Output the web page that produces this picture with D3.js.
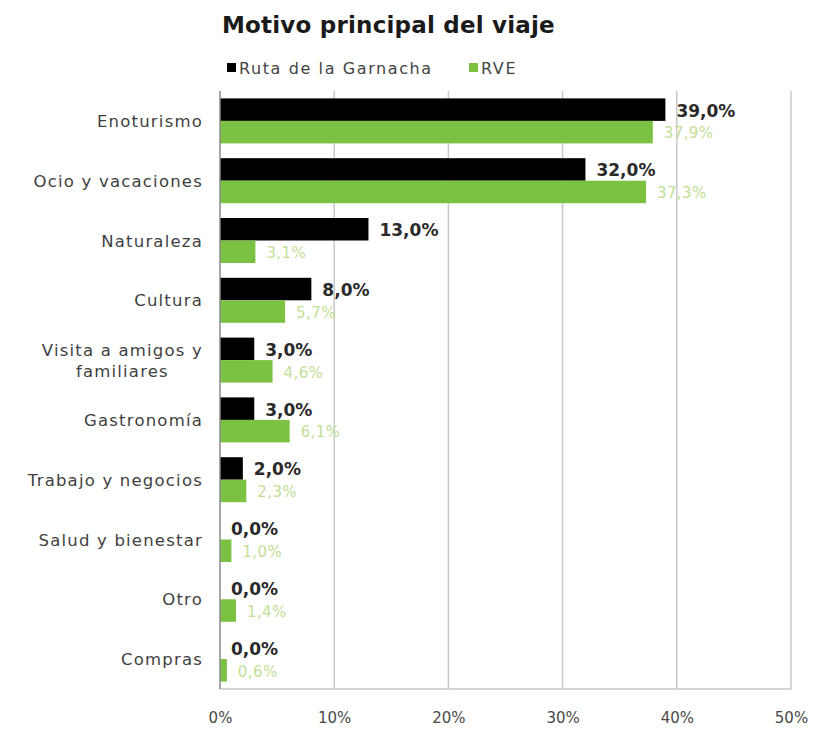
<!DOCTYPE html>
<html>
<head>
<meta charset="utf-8">
<script src="https://cdn.jsdelivr.net/npm/d3@7/dist/d3.min.js"></script>
<style>
  html, body { margin: 0; padding: 0; background: #ffffff; }
  svg { display: block; font-family: "DejaVu Sans", "Noto Sans", sans-serif; }
</style>
</head>
<body>
<svg id="chart" width="815" height="734"></svg>
<script>
// Trip purpose categories (top to bottom)
const categories = [
  "Enoturismo",
  "Ocio y vacaciones",
  "Naturaleza",
  "Cultura",
  "Visita a amigos y familiares",
  "Gastronomía",
  "Trabajo y negocios",
  "Salud y bienestar",
  "Otro",
  "Compras"
];
// Share of visitors, percent
const rutaGarnacha = [39.0, 32.0, 13.0, 8.0, 3.0, 3.0, 2.0, 0.0, 0.0, 0.0];
const rve = [37.9, 37.3, 3.1, 5.7, 4.6, 6.1, 2.3, 1.0, 1.4, 0.6];
const seriesNames = ["Ruta de la Garnacha", "RVE"];
const xTicks = [0, 10, 20, 30, 40, 50];

const colors = { ruta: "#000000", rve: "#7cc242", rveLabel: "#bfe096", text: "#3f3f3f", grid: "#c9c9c9" };

const svg = d3.select("#chart");
const plotTop = 91, plotBottom = 689;

const x = d3.scaleLinear().domain([0, 50]).range([220, 791]);
const y = d3.scaleBand().domain(categories).range([plotTop, plotBottom]);
const barH = 22.5;

// Title
svg.append("text")
  .attr("x", 222).attr("y", 33)
  .attr("font-size", 23).attr("font-weight", "bold").attr("fill", "#1a1a1a")
  .attr("letter-spacing", 0.2)
  .text("Motivo principal del viaje");

// Legend
const legend = svg.append("g");
const legendItems = [
  { name: seriesNames[0], color: colors.ruta, x: 227 },
  { name: seriesNames[1], color: colors.rve, x: 469 }
];
legendItems.forEach(d => {
  legend.append("rect").attr("x", d.x).attr("y", 63).attr("width", 9).attr("height", 9).attr("fill", d.color);
  legend.append("text").attr("x", d.x + 12).attr("y", 74)
    .attr("font-size", 16).attr("letter-spacing", 1.6).attr("fill", "#444").text(d.name);
});

// Vertical gridlines
svg.append("g").selectAll("line")
  .data(xTicks.filter(t => t > 0))
  .join("line")
  .attr("x1", d => x(d)).attr("x2", d => x(d))
  .attr("y1", plotTop).attr("y2", plotBottom)
  .attr("stroke", colors.grid).attr("stroke-width", 1.5);

// Bottom baseline
svg.append("line")
  .attr("x1", x(0)).attr("x2", x(50)).attr("y1", plotBottom).attr("y2", plotBottom)
  .attr("stroke", colors.grid).attr("stroke-width", 1.5);

// Bars and value labels
const rows = categories.map((c, i) => ({ cat: c, a: rutaGarnacha[i], b: rve[i] }));
const fmt = v => v.toFixed(1).replace(".", ",") + "%";

const g = svg.append("g");
rows.forEach(r => {
  const c = y(r.cat) + y.bandwidth() / 2;
  g.append("rect").attr("x", x(0)).attr("y", c - barH).attr("width", x(r.a) - x(0)).attr("height", barH).attr("fill", colors.ruta);
  g.append("rect").attr("x", x(0)).attr("y", c).attr("width", x(r.b) - x(0)).attr("height", barH).attr("fill", colors.rve);
  g.append("text").attr("x", x(r.a) + 11).attr("y", c - barH / 2 + 1).attr("dy", "0.35em")
    .attr("font-size", 17).attr("font-weight", "bold").attr("fill", "#2a2a2a").text(fmt(r.a));
  g.append("text").attr("x", x(r.b) + 11).attr("y", c + barH / 2 + 1).attr("dy", "0.35em")
    .attr("font-size", 15).attr("letter-spacing", 0.4).attr("fill", colors.rveLabel).text(fmt(r.b));
});

// Left axis line
svg.append("line")
  .attr("x1", x(0)).attr("x2", x(0)).attr("y1", plotTop).attr("y2", plotBottom)
  .attr("stroke", "#8a8a8a").attr("stroke-width", 1.5);

// Category labels
const catLabels = svg.append("g");
const labelRight = 203;
rows.forEach(r => {
  const c = y(r.cat) + y.bandwidth() / 2;
  const t = catLabels.append("text").attr("font-size", 16.5).attr("letter-spacing", 1.2).attr("fill", colors.text);
  if (r.cat === "Visita a amigos y familiares") {
    // Two-line label, lines centred on each other, block right-aligned
    const l1 = t.append("tspan").attr("y", c - 4).text("Visita a amigos y");
    const w1 = l1.node().getComputedTextLength();
    const mid = labelRight - w1 / 2;
    t.attr("text-anchor", "middle");
    l1.attr("x", mid);
    t.append("tspan").attr("x", mid).attr("y", c + 17).text("familiares");
  } else {
    t.attr("text-anchor", "end").attr("x", labelRight).attr("y", c + 6).text(r.cat);
  }
});

// X axis tick labels
const xAxis = d3.axisBottom(x).tickValues(xTicks).tickFormat(d => d + "%").tickSize(0).tickPadding(0);
const ax = svg.append("g").attr("transform", "translate(0,712)").call(xAxis);
ax.select(".domain").remove();
ax.selectAll("text").attr("font-size", 15).attr("fill", "#4a4a4a")
  .attr("font-family", "DejaVu Sans, sans-serif");
</script>
</body>
</html>
